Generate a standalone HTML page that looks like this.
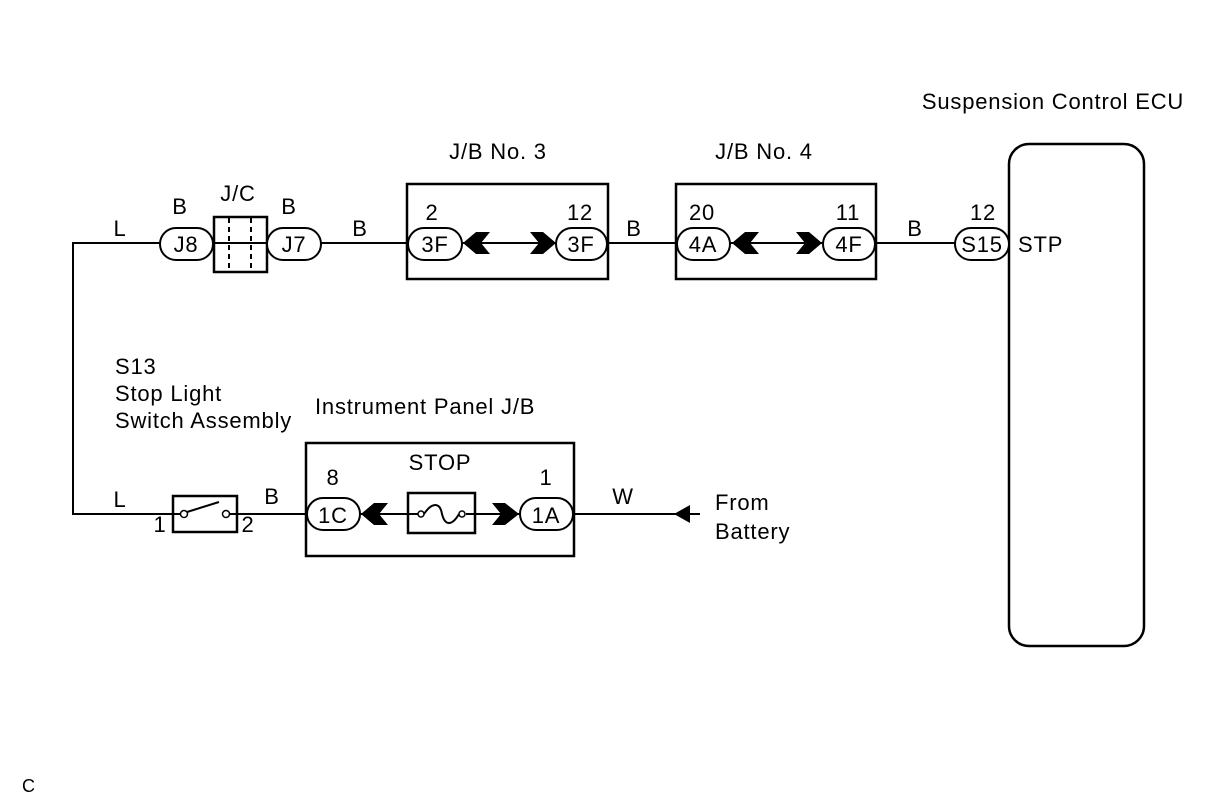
<!DOCTYPE html>
<html><head><style>body{margin:0;background:#fff}svg{display:block}text{font-family:"Liberation Sans",sans-serif;font-size:22px;letter-spacing:0.8px;fill:#000}</style></head><body>
<svg width="1212" height="804" viewBox="0 0 1212 804">
<g stroke="#000" stroke-width="2" fill="none">
<polyline points="1009,243 73,243 73,514 700,514"/>
<rect x="407" y="184" width="201" height="95" stroke-width="2.5"/>
<rect x="676" y="184" width="200" height="95" stroke-width="2.5"/>
<rect x="1009" y="144" width="135" height="502" rx="20" stroke-width="2.5"/>
<rect x="306" y="443" width="268" height="113" stroke-width="2.5"/>
<rect x="214" y="217" width="53" height="55" fill="#fff" stroke-width="2.5"/>
<line x1="214" y1="243" x2="267" y2="243"/>
<line x1="229" y1="218" x2="229" y2="271" stroke-dasharray="5,4"/>
<line x1="251" y1="218" x2="251" y2="271" stroke-dasharray="5,4"/>
<rect x="173" y="496" width="64" height="36" fill="#fff" stroke-width="2.5"/>
<line x1="173" y1="514" x2="180" y2="514"/><line x1="230" y1="514" x2="237" y2="514"/>
<circle cx="184" cy="514" r="3.5" fill="#fff" stroke-width="1.5"/>
<circle cx="226" cy="514" r="3.5" fill="#fff" stroke-width="1.5"/>
<line x1="187" y1="512" x2="219" y2="502"/>
<rect x="408" y="493" width="67" height="40" fill="#fff" stroke-width="2.5"/>
<line x1="408" y1="514" x2="418" y2="514"/><line x1="466" y1="514" x2="475" y2="514"/>
<circle cx="421" cy="514" r="3" fill="#fff" stroke-width="1.5"/>
<circle cx="462" cy="514" r="3" fill="#fff" stroke-width="1.5"/>
<path d="M424,514 C432,502 440,502 442,514 C445,526 452,526 459,514"/>
<g fill="#fff">
<rect x="160" y="228" width="53" height="32" rx="16"/>
<rect x="267" y="228" width="54" height="32" rx="16"/>
<rect x="408" y="228" width="54" height="32" rx="16"/>
<rect x="556" y="228" width="51" height="32" rx="16"/>
<rect x="677" y="228" width="53" height="32" rx="16"/>
<rect x="823" y="228" width="52" height="32" rx="16"/>
<rect x="955" y="228" width="54" height="32" rx="16"/>
<rect x="307" y="498" width="53" height="32" rx="16"/>
<rect x="520" y="498" width="53" height="32" rx="16"/>
</g>
</g>
<g fill="#000">
<polygon points="463,243 476,232 490,232 481,243 490,254 476,254"/>
<polygon points="530,232 543,232 556,243 543,254 530,254 539,243"/>
<polygon points="732,243 745,232 759,232 750,243 759,254 745,254"/>
<polygon points="796,232 809,232 822,243 809,254 796,254 805,243"/>
<polygon points="361,514 374,503 388,503 379,514 388,525 374,525"/>
<polygon points="492,503 505,503 519,514 505,525 492,525 501,514"/>
<polygon points="674,514 690,505 690,523"/>
</g>
<g text-anchor="middle">
<text x="186" y="252">J8</text><text x="294" y="252">J7</text>
<text x="435" y="252">3F</text><text x="581" y="252">3F</text>
<text x="703" y="252">4A</text><text x="849" y="252">4F</text>
<text x="982" y="252">S15</text>
<text x="333" y="523">1C</text><text x="546" y="523">1A</text>
<text x="120" y="236">L</text><text x="180" y="214">B</text><text x="238" y="201">J/C</text>
<text x="289" y="214">B</text><text x="360" y="236">B</text>
<text x="432" y="220">2</text><text x="580" y="220">12</text>
<text x="634" y="236">B</text><text x="702" y="220">20</text><text x="848" y="220">11</text>
<text x="915" y="236">B</text><text x="983" y="220">12</text>
<text x="498" y="159">J/B No. 3</text><text x="764" y="159">J/B No. 4</text>
<text x="1053" y="109">Suspension Control ECU</text>
<text x="120" y="507">L</text><text x="160" y="532">1</text><text x="248" y="532">2</text>
<text x="272" y="504">B</text><text x="333" y="485">8</text><text x="546" y="485">1</text>
<text x="440" y="470">STOP</text><text x="623" y="504">W</text>
</g>
<text x="1018" y="252">STP</text>
<text x="715" y="510">From</text><text x="715" y="539">Battery</text>
<text x="115" y="374">S13</text><text x="115" y="401">Stop Light</text><text x="115" y="428">Switch Assembly</text>
<text x="315" y="414">Instrument Panel J/B</text>
<text x="22" y="792" style="font-size:18px">C</text>
</svg>
</body></html>
